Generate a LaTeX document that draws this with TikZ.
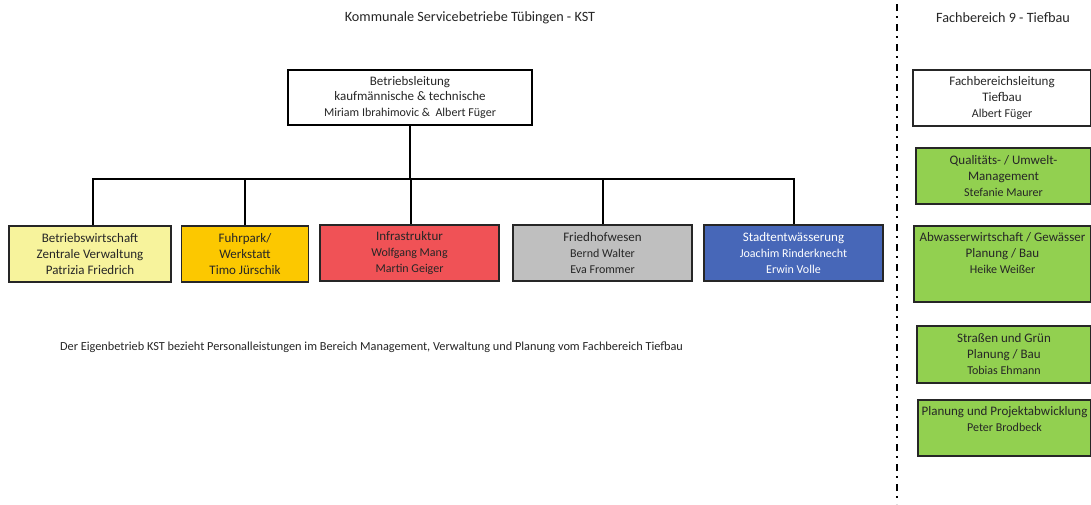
\documentclass[tikz,border=0pt]{standalone}
\usepackage{fontspec}
\setmainfont{Carlito}
\definecolor{cyellow}{HTML}{F7F39C}
\definecolor{corange}{HTML}{FCC800}
\definecolor{cred}{HTML}{F05256}
\definecolor{cgray}{HTML}{BFBFBF}
\definecolor{cblue}{HTML}{4767B8}
\definecolor{cgreen}{HTML}{92D050}
\definecolor{ctext}{HTML}{262626}
\newcommand\nm[1]{{\fontsize{12}{16}\selectfont #1}}
\begin{document}
\begin{tikzpicture}[x=1pt,y=-1pt,
  box/.style={draw=black!85, line width=1.6pt, inner sep=0pt, align=center,
    text=ctext, font=\fontsize{13}{16}\selectfont},
  heading/.style={text=ctext, font=\fontsize{14.2}{17}\selectfont, inner sep=0pt},
  notetext/.style={text=ctext, font=\fontsize{12.3}{14}\selectfont, inner sep=0pt},
  toptext/.style={text=ctext, align=center, inner sep=0pt, anchor=north,
    font=\fontsize{13}{16}\selectfont},
  conn/.style={draw=black, line width=2pt},
  sep/.style={draw=black, line width=2pt, dash pattern=on 7pt off 5pt on 2pt off 6pt}
]
\useasboundingbox (0,0) rectangle (1091,504);
\fill[white] (0,0) rectangle (1091,504);

% headings
\node[heading] (title) at (470,18) {Kommunale Servicebetriebe Tübingen - KST};
\node[heading] (title2) at (1003,18) {Fachbereich 9 - Tiefbau};

% top box
\node[box, draw=black, fill=white, minimum width=244pt, minimum height=55pt,
  font=\fontsize{13}{15.5}\selectfont] (top) at (410,97.5)
  {Betriebsleitung\\kaufmännische \& technische\\{\fontsize{12}{15.5}\selectfont Miriam Ibrahimovic \&\ \ Albert Füger}};

% department boxes
\node[box, fill=cyellow, minimum width=162pt, minimum height=56pt] (b1) at (90,254)
  {Betriebswirtschaft\\Zentrale Verwaltung\\Patrizia Friedrich};
\node[box, fill=corange, minimum width=127pt, minimum height=56pt] (b2) at (245,254)
  {Fuhrpark/\\Werkstatt\\Timo Jürschik};
\node[box, fill=cred, minimum width=179pt, minimum height=56pt] (b3) at (409.5,253)
  {Infrastruktur\\\nm{Wolfgang Mang}\\\nm{Martin Geiger}};
\node[box, fill=cgray, minimum width=179pt, minimum height=56pt] (b4) at (602.5,253)
  {Friedhofwesen\\\nm{Bernd Walter}\\\nm{Eva Frommer}};
\node[box, fill=cblue, text=white, minimum width=179pt, minimum height=56pt] (b5) at (793.5,253)
  {Stadtentwässerung\\\nm{Joachim Rinderknecht}\\\nm{Erwin Volle}};

% connectors
\coordinate (bus) at (410,179);
\coordinate (busL) at (93,179);
\coordinate (busR) at (794,179);
\draw[conn] (top.south) -- (bus);
\draw[conn] ([xshift=3pt]b1.north) |- (busL) -- (busR) -- ([xshift=0.5pt]b5.north);
\draw[conn] (b2.north) -- (b2.north |- bus);
\draw[conn] ([xshift=1.5pt]b3.north) -- ([xshift=1.5pt]b3.north |- bus);
\draw[conn] ([xshift=0.5pt]b4.north) -- ([xshift=0.5pt]b4.north |- bus);

% note
\node[notetext] (note) at (371.5,347)
  {Der Eigenbetrieb KST bezieht Personalleistungen im Bereich Management, Verwaltung und Planung vom Fachbereich Tiefbau};

% separator
\coordinate (sepA) at (897,4);
\coordinate (sepB) at (897,504);
\draw[sep] (sepA) -- (sepB);

% right column
\node[box, fill=white, minimum width=178pt, minimum height=56pt] (fbl) at (1002,98)
  {Fachbereichsleitung\\Tiefbau\\\nm{Albert Füger}};
\node[box, fill=cgreen, minimum width=175pt, minimum height=56pt] (g1) at (1003.5,176)
  {Qualitäts- / Umwelt-\\Management\\\nm{Stefanie Maurer}};
\node[box, fill=cgreen, minimum width=177pt, minimum height=76pt] (g2) at (1002.5,264) {};
\node[toptext] (g2t) at ([yshift=-7.5pt]g2.north)
  {Abwasserwirtschaft / Gewässer\\Planung / Bau\\\nm{Heike Weißer}};
\node[box, fill=cgreen, minimum width=174pt, minimum height=57pt] (g3) at (1004,354.5)
  {Straßen und Grün\\Planung / Bau\\\nm{Tobias Ehmann}};
\node[box, fill=cgreen, minimum width=173pt, minimum height=56pt] (g4) at (1004.5,428) {};
\node[toptext] (g4t) at ([yshift=-7pt]g4.north)
  {Planung und Projektabwicklung\\\nm{Peter Brodbeck}};
\end{tikzpicture}
\end{document}
